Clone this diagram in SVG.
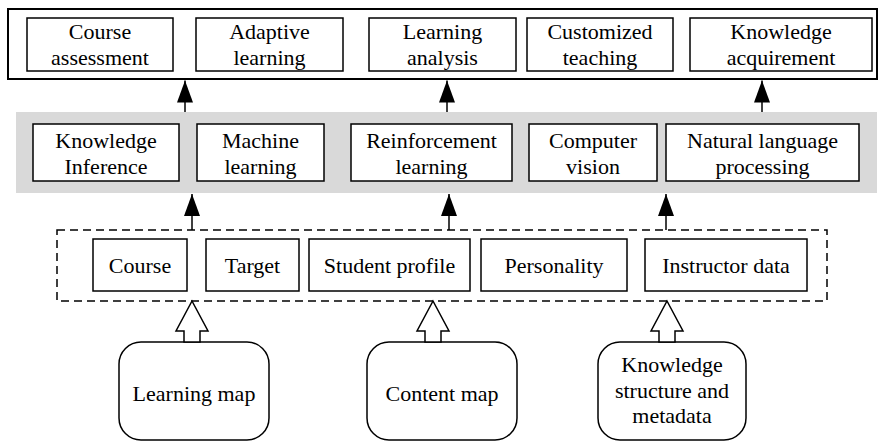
<svg xmlns="http://www.w3.org/2000/svg" width="879" height="442" viewBox="0 0 879 442">
<style>
  .box { fill: #ffffff; stroke: #000; stroke-width: 1.5; }
  .outer { fill: #ffffff; stroke: #000; stroke-width: 2; }
  .band { fill: #d9d9d9; stroke: none; }
  .dash { fill: none; stroke: #000; stroke-width: 1.5; stroke-dasharray: 8 5; }
  .rbox { fill: #ffffff; stroke: #000; stroke-width: 1.5; }
  .t { font-family: "Liberation Serif", "Times New Roman", serif; font-size: 22px; fill: #000; text-anchor: middle; }
  .conn { stroke: #000; stroke-width: 1.5; fill: none; }
  .hollow { fill: #ffffff; stroke: #000; stroke-width: 1.5; stroke-linejoin: miter; }
</style>
<defs>
  <marker id="ah" markerUnits="userSpaceOnUse" markerWidth="22" markerHeight="16" refX="22" refY="8" orient="auto" viewBox="0 0 22 16">
    <path d="M0,0 L22,8 L0,16 Z" fill="#000"/>
  </marker>
</defs>

<!-- Application layer -->
<g id="layer-app">
  <rect class="outer" x="8" y="9" width="869" height="70"/>
</g>
<g id="course-assessment">
  <rect class="box" x="27" y="18" width="146" height="53"/>
  <text class="t" x="100" y="39">Course</text>
  <text class="t" x="100" y="65">assessment</text>
</g>
<g id="adaptive-learning">
  <rect class="box" x="196" y="18" width="147" height="53"/>
  <text class="t" x="269.5" y="39">Adaptive</text>
  <text class="t" x="269.5" y="65">learning</text>
</g>
<g id="learning-analysis">
  <rect class="box" x="369" y="18" width="147" height="53"/>
  <text class="t" x="442.5" y="39">Learning</text>
  <text class="t" x="442.5" y="65">analysis</text>
</g>
<g id="customized-teaching">
  <rect class="box" x="527" y="18" width="146" height="53"/>
  <text class="t" x="600" y="39">Customized</text>
  <text class="t" x="600" y="65">teaching</text>
</g>
<g id="knowledge-acquirement">
  <rect class="box" x="690" y="18" width="182" height="53"/>
  <text class="t" x="781" y="39">Knowledge</text>
  <text class="t" x="781" y="65">acquirement</text>
</g>

<!-- Technology layer -->
<g id="layer-tech">
  <rect class="band" x="16" y="112" width="861" height="81"/>
</g>
<g id="knowledge-inference">
  <rect class="box" x="33" y="124" width="146" height="57"/>
  <text class="t" x="106" y="148">Knowledge</text>
  <text class="t" x="106" y="174">Inference</text>
</g>
<g id="machine-learning">
  <rect class="box" x="197" y="124" width="127" height="57"/>
  <text class="t" x="260.5" y="148">Machine</text>
  <text class="t" x="260.5" y="174">learning</text>
</g>
<g id="reinforcement-learning">
  <rect class="box" x="351" y="124" width="161" height="57"/>
  <text class="t" x="431.5" y="148">Reinforcement</text>
  <text class="t" x="431.5" y="174">learning</text>
</g>
<g id="computer-vision">
  <rect class="box" x="529" y="124" width="128" height="57"/>
  <text class="t" x="593" y="148">Computer</text>
  <text class="t" x="593" y="174">vision</text>
</g>
<g id="nlp">
  <rect class="box" x="666" y="124" width="193" height="57"/>
  <text class="t" x="762.5" y="148">Natural language</text>
  <text class="t" x="762.5" y="174">processing</text>
</g>

<!-- Data layer -->
<g id="layer-data">
  <rect class="dash" x="57" y="230" width="770" height="71"/>
</g>
<g id="course">
  <rect class="box" x="93" y="239" width="94" height="52"/>
  <text class="t" x="140" y="273">Course</text>
</g>
<g id="target">
  <rect class="box" x="206" y="239" width="93" height="52"/>
  <text class="t" x="252.5" y="273">Target</text>
</g>
<g id="student-profile">
  <rect class="box" x="309" y="239" width="161" height="52"/>
  <text class="t" x="389.5" y="273">Student profile</text>
</g>
<g id="personality">
  <rect class="box" x="481" y="239" width="146" height="52"/>
  <text class="t" x="554" y="273">Personality</text>
</g>
<g id="instructor-data">
  <rect class="box" x="645" y="239" width="162" height="52"/>
  <text class="t" x="726" y="273">Instructor data</text>
</g>

<!-- Source maps -->
<g id="learning-map">
  <rect class="rbox" x="119" y="342" width="150" height="98" rx="22" ry="22"/>
  <text class="t" x="194" y="401">Learning map</text>
</g>
<g id="content-map">
  <rect class="rbox" x="367" y="342" width="150" height="98" rx="22" ry="22"/>
  <text class="t" x="442" y="401">Content map</text>
</g>
<g id="knowledge-structure">
  <rect class="rbox" x="598" y="342" width="148" height="98" rx="22" ry="22"/>
  <text class="t" x="672" y="372">Knowledge</text>
  <text class="t" x="672" y="398">structure and</text>
  <text class="t" x="672" y="423">metadata</text>
</g>

<!-- Connectors -->
<g id="connectors">
  <line class="conn" x1="185" y1="112" x2="185" y2="80.5" marker-end="url(#ah)"/>
  <line class="conn" x1="447" y1="112" x2="447" y2="80.5" marker-end="url(#ah)"/>
  <line class="conn" x1="762" y1="112" x2="762" y2="80.5" marker-end="url(#ah)"/>
  <line class="conn" x1="192" y1="230" x2="192" y2="194" marker-end="url(#ah)"/>
  <line class="conn" x1="449" y1="230" x2="449" y2="194" marker-end="url(#ah)"/>
  <line class="conn" x1="666" y1="230" x2="666" y2="194" marker-end="url(#ah)"/>
  <polygon class="hollow" points="192,301 208,331 200,331 200,342 184,342 184,331 176,331"/>
  <polygon class="hollow" points="433,301 449,331 441,331 441,342 425,342 425,331 417,331"/>
  <polygon class="hollow" points="667,301 683,331 675,331 675,342 659,342 659,331 651,331"/>
</g>
</svg>
